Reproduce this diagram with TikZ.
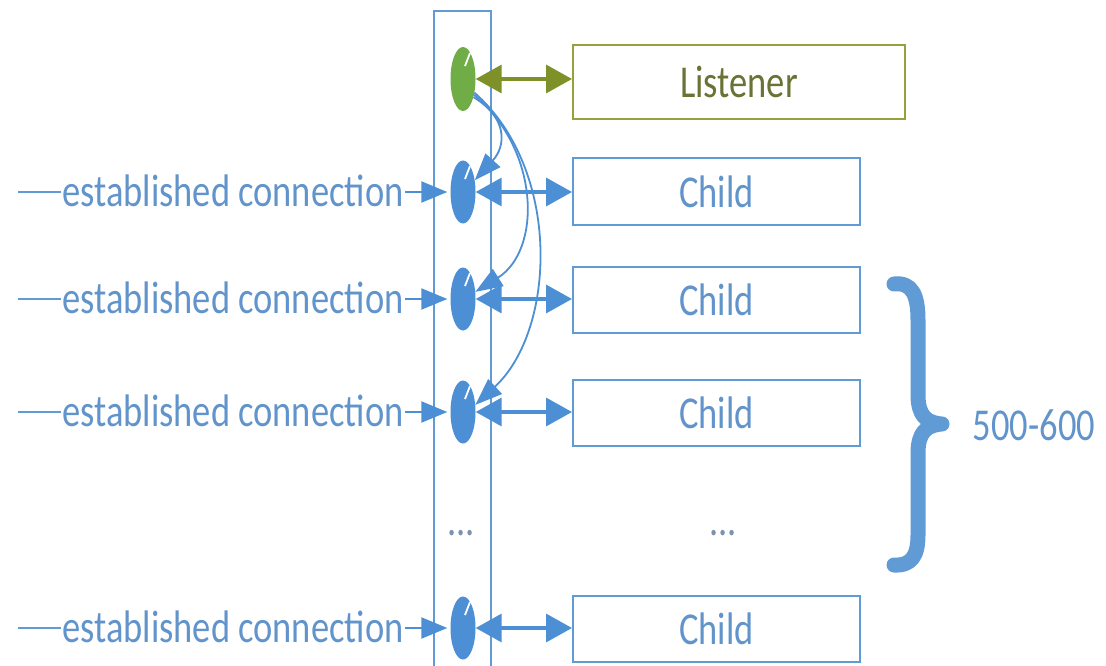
\documentclass[tikz,border=0pt]{standalone}
\usepackage{graphicx}
\usepackage{fontspec}
\setmainfont{Carlito}
\usetikzlibrary{arrows.meta,shapes.geometric}

\definecolor{sockblue}{RGB}{76,143,212}
\definecolor{linkblue}{RGB}{96,155,213}
\definecolor{txtblue}{RGB}{98,148,204}
\definecolor{sockgreen}{RGB}{112,173,71}
\definecolor{oliveline}{RGB}{125,145,40}
\definecolor{olivebox}{RGB}{150,160,60}
\definecolor{olivetxt}{RGB}{104,115,52}
\definecolor{dotgray}{RGB}{125,145,175}

% tall label text
\newcommand{\tallfont}[1]{\scalebox{1}[1.25]{\fontsize{36.5}{40}\selectfont #1}}

\tikzset{
  duplexhead/.tip={Triangle[width=28pt,length=26pt]},
  inhead/.tip={Triangle[width=21pt,length=26pt]},
  spawnhead/.tip={Triangle[width=20pt,length=27pt]},
}

\begin{document}
\begin{tikzpicture}[x=1pt,y=-1pt,
  socket/.style={ellipse, fill=sockblue, minimum width=25pt, minimum height=63pt, inner sep=0pt},
  childbox/.style={draw=linkblue, line width=2pt, minimum width=287pt, minimum height=66pt, inner sep=0pt, text=txtblue},
  conn/.style={draw=linkblue, line width=2pt},
  duplex/.style={draw=sockblue, line width=3.5pt, duplexhead-duplexhead},
  inbound/.style={draw=sockblue, line width=2.2pt, -inhead},
  spawn/.style={draw=sockblue, line width=1.8pt, -spawnhead},
  lbl/.style={anchor=base west, inner xsep=1.5pt, inner ysep=0pt, text=txtblue},
  notch/.style={white, line width=1.8pt},
]
\useasboundingbox (0,0) rectangle (1106,666);

% socket column
\node[draw=linkblue, line width=2pt, minimum width=57pt, minimum height=680pt,
      anchor=north, inner sep=0pt] (col) at (462,10) {};

% sockets
\node[socket, fill=sockgreen, minimum height=64pt] (g) at (463,79) {};
\node[socket] (e1) at (463,192) {};
\node[socket] (e2) at (463,299) {};
\node[socket] (e3) at (463,412) {};
\node[socket] (e4) at (463,628) {};
\foreach \s in {g,e1,e2,e3,e4}
  \draw[notch] ([shift={(7,-26)}]\s.center) -- ([shift={(2,-13)}]\s.center);

% processes
\node[draw=olivebox, line width=2pt, minimum width=332pt, minimum height=74pt,
      inner sep=0pt, text=olivetxt] (lis) at (739,82) {\tallfont{Listener}};
\node[childbox] (c1) at (716.5,191.5) {\tallfont{Child}};
\node[childbox] (c2) at (716.5,299.5) {\tallfont{Child}};
\node[childbox] (c3) at (716.5,412.5) {\tallfont{Child}};
\node[childbox] (c4) at (716.5,628.5) {\tallfont{Child}};

% socket <-> process links
\draw[duplex, draw=oliveline] (g.east) -- (g.east -| lis.west);
\draw[duplex] (e1.east) -- (e1.east -| c1.west);
\draw[duplex] (e2.east) -- (e2.east -| c2.west);
\draw[duplex] (e3.east) -- (e3.east -| c3.west);
\draw[duplex] (e4.east) -- (e4.east -| c4.west);

% incoming connections
\node[lbl] (l1) at (60.5,206) {\tallfont{established connection}};
\node[lbl] (l2) at (60.5,313) {\tallfont{established connection}};
\node[lbl] (l3) at (60.5,426) {\tallfont{established connection}};
\node[lbl] (l4) at (60.5,642) {\tallfont{established connection}};
\coordinate (s1) at (18,192);
\coordinate (s2) at (18,299);
\coordinate (s3) at (18,412);
\coordinate (s4) at (18,628);
\foreach \i in {1,2,3,4}{
  \draw[conn] (s\i) -- (l\i.west |- e\i);
  \draw[inbound, shorten >=3pt] (l\i.east |- e\i) -- (e\i.west);
}

% accept hand-off from the listening socket
\draw[spawn] (g.-60) .. controls (508,118) and (506,146) .. (e1.45);
\draw[spawn] (g.-55) .. controls (540,150) and (542,250) .. (e2.30);
\draw[spawn] (g.-50) .. controls (562,170) and (556,330) .. (e3.30);

% elided rows
\node[anchor=base, text=dotgray, inner sep=0pt] (d1) at (461,535) {\tallfont{...}};
\node[anchor=base, text=dotgray, inner sep=0pt] (d2) at (723,535) {\tallfont{...}};

% brace over the child pool
\draw[linkblue, line width=15pt, line cap=round, line join=round]
  (894,284) .. controls (912,282) and (918,295) .. (918,320) -- (918,395)
  .. controls (918,415) and (926,423) .. (942,424)
  .. controls (926,425) and (918,433) .. (918,453) -- (918,535)
  .. controls (918,555) and (912,566) .. (894,565);
\node[text=txtblue, inner sep=0pt] (n) at (1034,425) {\tallfont{500-600}};
\end{tikzpicture}
\end{document}
